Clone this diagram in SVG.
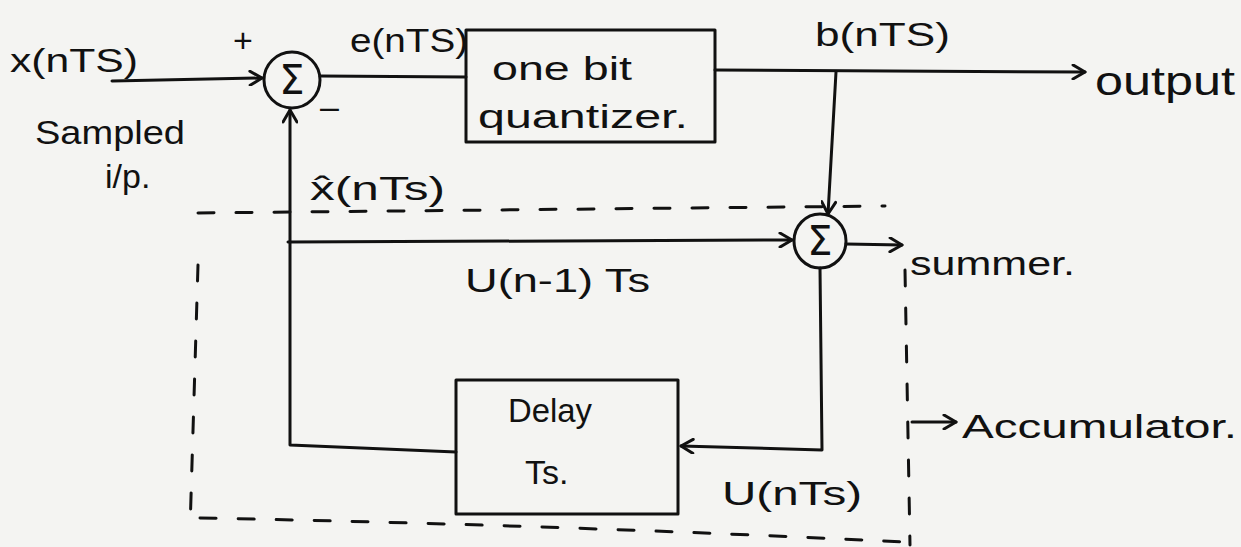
<svg xmlns="http://www.w3.org/2000/svg" width="1241" height="547" viewBox="0 0 1241 547">
<defs>
<marker id="arr" markerWidth="16" markerHeight="16" refX="14" refY="8" orient="auto" markerUnits="userSpaceOnUse">
<path d="M2,1 L14,8 L2,15" fill="none" stroke="#111" stroke-width="3" stroke-linecap="round" stroke-linejoin="round"/>
</marker>
<style>
.ln{fill:none;stroke:#111;stroke-width:3;stroke-linecap:round;stroke-linejoin:round}
.dash{fill:none;stroke:#111;stroke-width:3;stroke-dasharray:16 22;stroke-linecap:round}
.t{font-family:"Liberation Sans","DejaVu Sans",sans-serif;fill:#111;font-size:34px}
.big{font-size:40px}
.sym{font-family:"DejaVu Sans",sans-serif;fill:#111;font-size:40px;text-anchor:middle}
</style>
</defs>
<rect width="1241" height="547" fill="#f4f4f2"/>

<g id="accumulator">
<path class="dash" d="M198,213 L885,206"/>
<path class="dash" d="M198,265 L190,530"/>
<path class="dash" d="M200,518 Q560,525 905,542"/>
<path class="dash" d="M905,270 L910,545"/>
</g>

<g id="sum1">
<ellipse class="ln" cx="292" cy="80" rx="28" ry="28"/>
<text class="sym" x="292" y="94">Σ</text>
</g>

<g id="quantizer">
<rect class="ln" x="466" y="30" width="249" height="112"/>
<text class="t" x="492" y="80" textLength="140" lengthAdjust="spacingAndGlyphs">one bit</text>
<text class="t" x="478" y="128" textLength="210" lengthAdjust="spacingAndGlyphs">quantizer.</text>
</g>

<g id="sum2">
<ellipse class="ln" cx="820" cy="241" rx="26" ry="27"/>
<text class="sym" x="820" y="255">Σ</text>
</g>

<g id="delay">
<rect class="ln" x="456" y="380" width="222" height="134"/>
<text class="t" x="508" y="422" font-size="32" textLength="84" lengthAdjust="spacingAndGlyphs">Delay</text>
<text class="t" x="525" y="484" font-size="32">Ts.</text>
</g>

<g id="connectors">
<path class="ln" d="M112,81 L262,78" marker-end="url(#arr)"/>
<path class="ln" d="M320,76 L466,77"/>
<path class="ln" d="M715,70 L1085,72" marker-end="url(#arr)"/>
<path class="ln" d="M836,72 L828,214" marker-end="url(#arr)"/>
<path class="ln" d="M288,242 L792,240" marker-end="url(#arr)"/>
<path class="ln" d="M846,244 L902,245" marker-end="url(#arr)"/>
<path class="ln" d="M820,268 L822,450 L681,446" marker-end="url(#arr)"/>
<path class="ln" d="M456,452 L290,445 L290,110" marker-end="url(#arr)"/>
<path class="ln" d="M912,422 L956,422" marker-end="url(#arr)"/>
</g>

<g id="labels">
<text class="t" x="10" y="72" textLength="128" lengthAdjust="spacingAndGlyphs">x(nTS)</text>
<text class="t" x="233" y="52" font-size="32">+</text>
<text class="t" x="320" y="118" font-size="32">–</text>
<text class="t" x="350" y="52" textLength="118" lengthAdjust="spacingAndGlyphs">e(nTS)</text>
<text class="t" x="815" y="46" textLength="135" lengthAdjust="spacingAndGlyphs">b(nTS)</text>
<text class="t big" x="1095" y="95" textLength="140" lengthAdjust="spacingAndGlyphs">output</text>
<text class="t" x="35" y="144" textLength="150" lengthAdjust="spacingAndGlyphs">Sampled</text>
<text class="t" x="105" y="188" font-size="30">i/p.</text>
<text class="t" x="310" y="200" textLength="135" lengthAdjust="spacingAndGlyphs">x̂(nTs)</text>
<text class="t" x="465" y="292" textLength="185" lengthAdjust="spacingAndGlyphs">U(n-1) Ts</text>
<text class="t" x="910" y="275" textLength="165" lengthAdjust="spacingAndGlyphs">summer.</text>
<text class="t" x="722" y="505" textLength="140" lengthAdjust="spacingAndGlyphs">U(nTs)</text>
<text class="t" x="962" y="438" textLength="275" lengthAdjust="spacingAndGlyphs">Accumulator.</text>
</g>
</svg>
